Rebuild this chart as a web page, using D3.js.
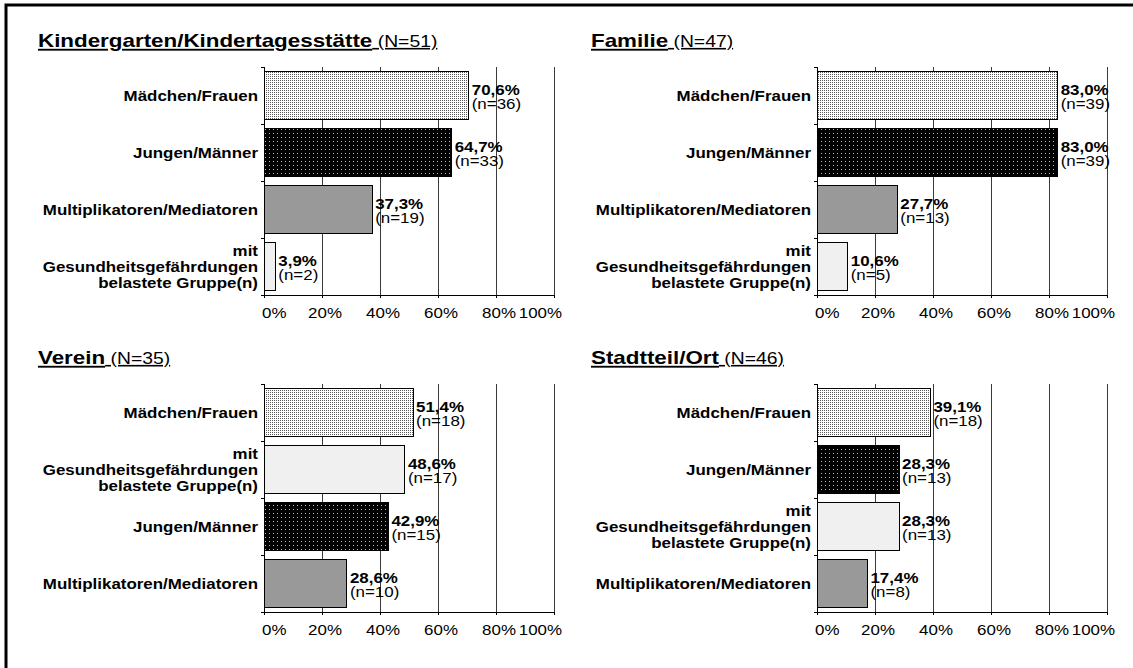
<!DOCTYPE html>
<html lang="de">
<head>
  <meta charset="UTF-8" />
  <title>Zielgruppen nach Setting</title>
  <script src="https://d3js.org/d3.v7.min.js"></script>
  <style>
    html, body { margin: 0; padding: 0; background: #fff; overflow: hidden; }
    svg { display: block; }
    text { font-family: "Liberation Sans", Arial, sans-serif; fill: #000; }
    .cat { font-size: 14px; font-weight: bold; }
    .val { font-size: 14px; font-weight: bold; }
    .cnt { font-size: 14px; }
    .tick-label { font-size: 14px; }
    .title { text-decoration: underline; }
    .grid { stroke: #3a3a3a; stroke-width: 1px; shape-rendering: crispEdges; }
    .axis { stroke: #000; stroke-width: 1px; shape-rendering: crispEdges; }
    .bar { stroke: #000; stroke-width: 1px; shape-rendering: crispEdges; }
  </style>
</head>
<body>
  <svg id="chart"></svg>
  <script>
    // Daten
    const panels = ["Kindergarten/Kindertagesstätte", "Familie", "Verein", "Stadtteil/Ort"];
    const panelN = [51, 47, 35, 46];
    const groups = [
      "Mädchen/Frauen",
      "Jungen/Männer",
      "Multiplikatoren/Mediatoren",
      "mit\nGesundheitsgefährdungen\nbelastete Gruppe(n)"
    ];
    // Reihenfolge der Gruppen (von oben nach unten) je Setting
    const panelOrder = [[0, 1, 2, 3], [0, 1, 2, 3], [0, 3, 1, 2], [0, 1, 3, 2]];
    const percentages = [
      [70.6, 64.7, 37.3, 3.9],
      [83.0, 83.0, 27.7, 10.6],
      [51.4, 48.6, 42.9, 28.6],
      [39.1, 28.3, 28.3, 17.4]
    ];
    const counts = [
      [36, 33, 19, 2],
      [39, 39, 13, 5],
      [18, 17, 15, 10],
      [18, 13, 13, 8]
    ];
    const ticks = [0, 20, 40, 60, 80, 100];

    const W = 1133, H = 668;
    const SX = 1.21; // Schrift ist im Original etwas breit gezogen

    const svg = d3.select("#chart").attr("width", W).attr("height", H);
    const defs = svg.append("defs");

    // Muster
    const pLight = defs.append("pattern").attr("id", "pat-light")
      .attr("patternUnits", "userSpaceOnUse").attr("width", 2).attr("height", 2);
    pLight.append("rect").attr("width", 2).attr("height", 2).attr("fill", "#fff");
    pLight.append("rect").attr("width", 1).attr("height", 1).attr("fill", "#5a5a5a");

    const pDark = defs.append("pattern").attr("id", "pat-dark")
      .attr("patternUnits", "userSpaceOnUse").attr("width", 4).attr("height", 4);
    pDark.append("rect").attr("width", 4).attr("height", 4).attr("fill", "#000");
    pDark.append("rect").attr("x", 1).attr("y", 1).attr("width", 1).attr("height", 1).attr("fill", "#bbb");

    const groupFill = ["url(#pat-light)", "url(#pat-dark)", "#999999", "#f0f0f0"];

    const fmt = v => d3.format(".1f")(v).replace(".", ",") + "%";

    function addText(parent, x, y, cls, anchor) {
      return parent.append("g")
        .attr("transform", `translate(${x},${y}) scale(${SX},1)`)
        .append("text")
        .attr("class", cls)
        .attr("text-anchor", anchor);
    }

    // Rahmen
    svg.append("rect")
      .attr("x", 6).attr("y", 5)
      .attr("width", W + 40).attr("height", H + 40)
      .attr("fill", "none").attr("stroke", "#000").attr("stroke-width", 3);

    const cols = [264, 817];
    const rows = [67, 384];
    const plotW = 290, plotH = 228;

    panels.forEach((name, p) => {
      const x0 = cols[p % 2], y0 = rows[Math.floor(p / 2)];
      const g = svg.append("g");

      const x = d3.scaleLinear().domain([0, 100]).range([x0, x0 + plotW]);
      const y = d3.scaleBand().domain(d3.range(4)).range([y0, y0 + plotH])
        .paddingInner(0.175).paddingOuter(0.0875);
      const step = y.step();
      const yb = y0 + plotH;

      // Titel
      const t = addText(g, x0 - 226, y0 - 20, "title", "start");
      t.append("tspan").attr("font-size", 18.5).attr("font-weight", "bold").text(name);
      t.append("tspan").attr("font-size", 16).text(` (N=${panelN[p]})`);

      // Gitternetz
      g.selectAll("line.grid").data(ticks.slice(1)).enter().append("line")
        .attr("class", "grid")
        .attr("x1", d => x(d)).attr("x2", d => x(d))
        .attr("y1", y0).attr("y2", yb);

      // Achsen
      g.append("line").attr("class", "axis")
        .attr("x1", x(0)).attr("x2", x(0)).attr("y1", y0).attr("y2", yb);
      g.append("line").attr("class", "axis")
        .attr("x1", x(0)).attr("x2", x(100)).attr("y1", yb).attr("y2", yb);
      g.selectAll("line.ytick").data(d3.range(5)).enter().append("line")
        .attr("class", "axis")
        .attr("x1", x(0) - 3).attr("x2", x(0))
        .attr("y1", i => y0 + i * step).attr("y2", i => y0 + i * step);
      g.selectAll("line.xtick").data(ticks).enter().append("line")
        .attr("class", "axis")
        .attr("x1", d => x(d)).attr("x2", d => x(d))
        .attr("y1", yb).attr("y2", yb + 3);

      // Achsenbeschriftung
      ticks.forEach(tv => {
        let tx = x(tv) + 3, anchor = "middle";
        if (tv === 0) { tx = x(tv) - 2; anchor = "start"; }
        if (tv === 100) { tx = x(tv) + 8; anchor = "end"; }
        addText(g, tx, yb + 23, "tick-label", anchor).text(tv + "%");
      });

      const rowsData = panelOrder[p].map((gi, i) => ({
        gi, i, v: percentages[p][i], n: counts[p][i]
      }));

      // Balken
      g.selectAll("rect.bar").data(rowsData).enter().append("rect")
        .attr("class", "bar")
        .attr("x", x(0))
        .attr("y", d => y(d.i))
        .attr("width", d => x(d.v) - x(0))
        .attr("height", y.bandwidth())
        .attr("fill", d => groupFill[d.gi]);

      rowsData.forEach(d => {
        const cy = y(d.i) + y.bandwidth() / 2;

        // Kategorien
        const lines = groups[d.gi].split("\n");
        lines.forEach((ln, k) => {
          addText(g, x(0) - 6, cy + 5 + (k - (lines.length - 1) / 2) * 16, "cat", "end").text(ln);
        });

        // Werte
        addText(g, x(d.v) + 3, cy - 0.5, "val", "start").text(fmt(d.v));
        addText(g, x(d.v) + 3, cy + 13, "cnt", "start").text(`(n=${d.n})`);
      });
    });
  </script>
</body>
</html>
